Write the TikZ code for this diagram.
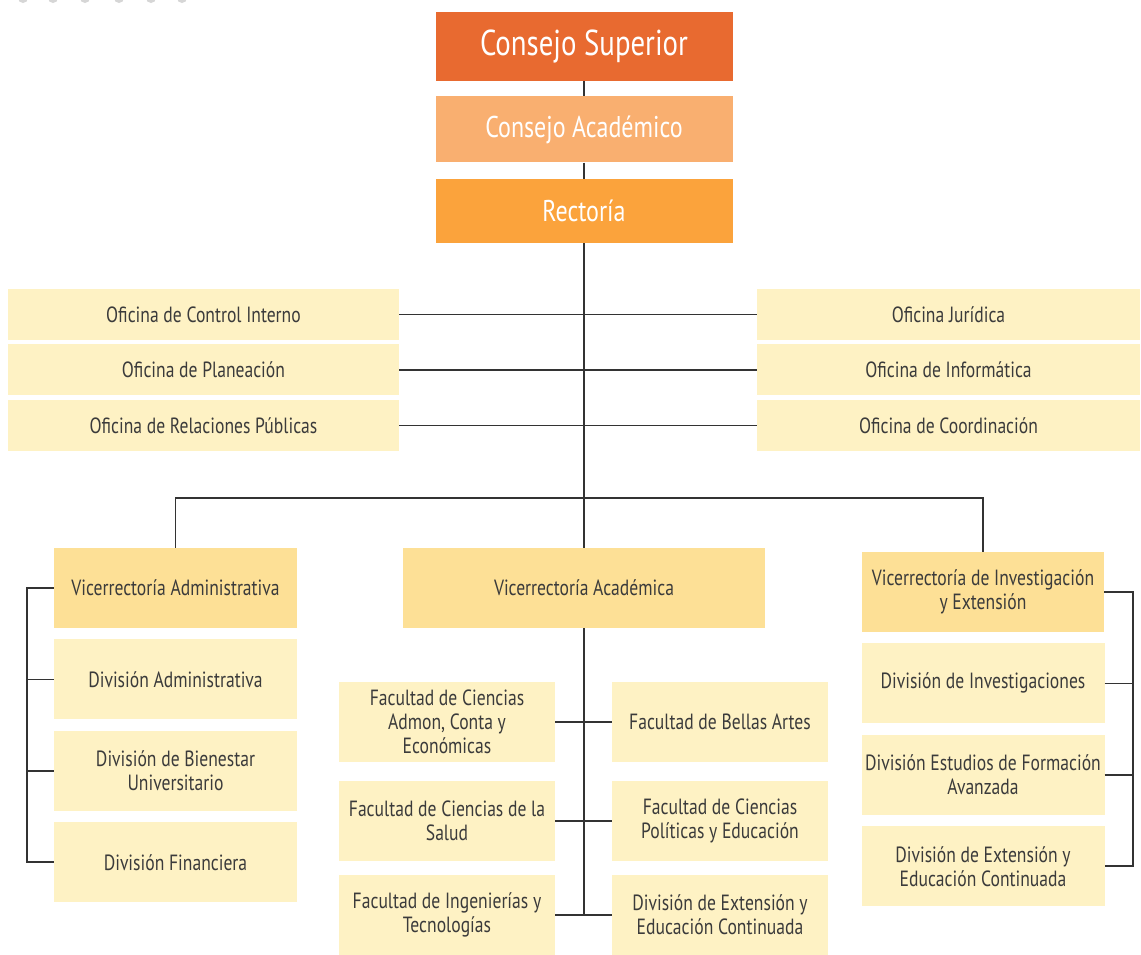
\documentclass[tikz,border=0pt]{standalone}
\usepackage{fontspec}
\setmainfont[FakeStretch=0.8]{PT Sans}
\usetikzlibrary{positioning}
\definecolor{csupc}{HTML}{E86A30}
\definecolor{cacac}{HTML}{F9AF70}
\definecolor{rectc}{HTML}{FBA33C}
\definecolor{vicec}{HTML}{FDE096}
\definecolor{ofic}{HTML}{FEF2C4}
\definecolor{txtc}{HTML}{3B3B3B}
\definecolor{linec}{HTML}{333333}
\definecolor{dotc}{HTML}{D6D6D6}
\begin{document}
\begin{tikzpicture}[x=1pt, y=-1pt, node distance=11pt,
	box/.style={rectangle,inner sep=2pt,align=center,text=txtc,font=\fontsize{22}{24}\selectfont},
	top/.style={rectangle,text=white,minimum width=297pt,align=center},
	ofi/.style={box,fill=ofic,minimum height=51pt},
	vice/.style={box,fill=vicec,minimum height=80pt},
	divi/.style={box,fill=ofic,minimum width=243pt,minimum height=80pt},
	facu/.style={box,fill=ofic,minimum width=216pt,minimum height=80pt},
	link/.style={line width=1.5pt,color=linec}]
	\useasboundingbox (0,0) rectangle (1141,954);
	\clip (0,0) rectangle (1141,954);
	\foreach \x in {23,53,85,119,151,182}
		\fill[dotc] (\x,-2) circle (5pt);
	% Place nodes
	\node [top,fill=csupc,minimum height=69pt,font=\fontsize{36}{40}\selectfont] (csup) at (584,46.5) {Consejo Superior};
	\node [top,fill=cacac,minimum height=66pt,font=\fontsize{30}{34}\selectfont,below=15pt of csup] (caca) {Consejo Académico};
	\node [top,fill=rectc,minimum height=64pt,font=\fontsize{30}{34}\selectfont,below=16pt of caca] (rect) {Rectoría};

	\node [ofi,minimum width=391pt] (ocin) at (203.5,314.5) {Oficina de Control Interno};
	\node [ofi,minimum width=391pt,below=4pt of ocin] (opla) {Oficina de Planeación};
	\node [ofi,minimum width=391pt,below=4pt of opla] (orel) {Oficina de Relaciones Públicas};
	\node [ofi,minimum width=383pt] (ojur) at (948.5,314.5) {Oficina Jurídica};
	\node [ofi,minimum width=383pt,below=4pt of ojur] (oinf) {Oficina de Informática};
	\node [ofi,minimum width=383pt,below=4pt of oinf] (ocoo) {Oficina de Coordinación};

	\node [vice,minimum width=243pt] (vadm) at (175.5,588) {Vicerrectoría Administrativa};
	\node [vice,minimum width=362pt] (vaca) at (584,588) {Vicerrectoría Académica};
	\node [vice,minimum width=242pt] (vinv) at (983,592) {Vicerrectoría de Investigación\\y Extensión};

	\node [divi,below=of vadm] (dadm) {División Administrativa};
	\node [divi,below=of dadm] (dbie) {División de Bienestar\\Universitario};
	\node [divi,below=of dbie] (dfin) {División Financiera};

	\node [divi,below=of vinv] (dinv) {División de Investigaciones};
	\node [divi,below=of dinv] (dest) {División Estudios de Formación\\Avanzada};
	\node [divi,below=of dest] (dexr) {División de Extensión y\\Educación Continuada};

	\node [facu] (fadm) at (447,722) {Facultad de Ciencias\\Admon, Conta y\\Económicas};
	\node [facu] (fsal) at (447,821) {Facultad de Ciencias de la\\Salud};
	\node [facu] (fing) at (447,915) {Facultad de Ingenierías y\\Tecnologías};
	\node [facu] (fbel) at (720,722) {Facultad de Bellas Artes};
	\node [facu] (fpol) at (720,821) {Facultad de Ciencias\\Políticas y Educación};
	\node [facu] (dexm) at (720,915) {División de Extensión y\\Educación Continuada};

	% Connectors
	\draw [link] (csup) -- (caca);
	\draw [link] (caca) -- (rect);
	\draw [link] (rect) -- (vaca);
	\draw [link] (ocin) -- (ojur);
	\draw [link] (opla) -- (oinf);
	\draw [link] (orel) -- (ocoo);
	\coordinate (bar) at (584,498);
	\draw [link] (vadm.north) |- (bar) -| (vinv.north);

	\coordinate (lbus) at (27,0);
	\draw [link] (vadm.west) -- (vadm.west -| lbus) |- (dfin.west);
	\draw [link] (dadm.west) -- (dadm.west -| lbus);
	\draw [link] (dbie.west) -- (dbie.west -| lbus);
	\coordinate (rbus) at (1133,0);
	\draw [link] (vinv.east) -- (vinv.east -| rbus) |- (dexr.east);
	\draw [link] (dinv.east) -- (dinv.east -| rbus);
	\draw [link] (dest.east) -- (dest.east -| rbus);

	\draw [link] (vaca) -- (vaca.south |- fing.east);
	\draw [link] (fadm) -- (fbel);
	\draw [link] (fsal) -- (fpol);
	\draw [link] (fing) -- (dexm);
\end{tikzpicture}
\end{document}
